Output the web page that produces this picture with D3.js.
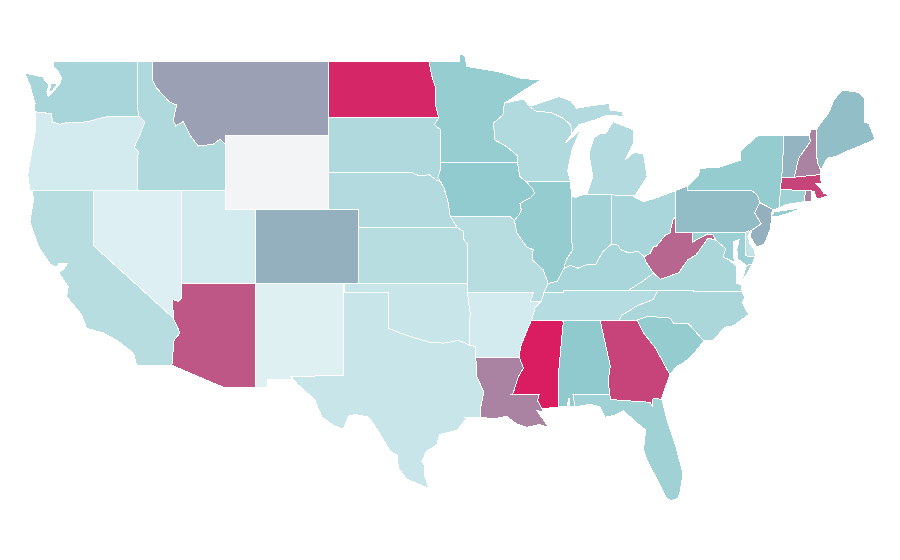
<!DOCTYPE html>
<html>
<head>
<meta charset="utf-8">
<script src="https://d3js.org/d3.v7.min.js"></script>
<style>
  body { margin: 0; background: #fff; }
  path { stroke: #fff; stroke-width: 1; shape-rendering: crispEdges; }
</style>
</head>
<body>
<div id="map"></div>
<script>
// state values, same order in both arrays
var stateNames = ["WA","OR","CA","ID","NV","UT","AZ","MT","WY","CO","NM","ND","SD","NE","KS","OK","TX",
  "MN","IA","MO","AR","LA","WI","IL","MI","IN","OH","KY","TN","MS","AL","GA","FL","SC","NC","VA","WV",
  "PA","NY","NJ","DE","MD","CT","RI","MA","VT","NH","ME"];
var stateValues = [38,15,29,34,10,15,84,64,0,60,9,97,34,32,29,21,21,
  47,49,29,15,72,33,48,32,40,37,37,31,100,50,89,42,48,36,36,80,
  55,48,60,23,43,42,72,89,58,72,54];

// shared borders in lon/lat
var waOr = [[-123.98,46.25],[-123.4,46.2],[-122.9,46.15],[-122.8,45.7],[-122.3,45.58],[-121.7,45.7],[-120.95,45.66],[-120.3,45.75],[-119.6,45.9],[-119.05,45.99],[-116.92,46]];
var orId = [[-116.92,46],[-116.53,45.72],[-116.85,45.05],[-117.26,44.33],[-116.94,44.1],[-117.03,43.83],[-117.03,42]];
var idMt = [[-116.05,49],[-116.05,48.05],[-115.74,47.54],[-114.88,46.8],[-114.38,46.62],[-114.6,45.8],[-114.44,45.49],[-113.93,45.72],[-113.47,45],[-112.9,44.4],[-111.9,44.5],[-111.43,44.77],[-111.05,44.47]];
var colorado = [[-114.04,36.2],[-114.27,36],[-114.65,36.1],[-114.6,35.1],[-114.15,34.3],[-114.55,33.9],[-114.7,32.55]];
var ndMn = [[-97.23,49],[-97.05,48.24],[-96.8,47.6],[-96.76,46.53],[-96.56,45.94]];
var sdMn = [[-96.56,45.94],[-96.85,45.55],[-96.45,45.3],[-96.45,43.5]];
var sdIa = [[-96.45,43.5],[-96.47,43.1],[-96.62,42.7],[-96.45,42.49]];
var sdNe = [[-104.05,43],[-98.45,43],[-97.9,42.8],[-97.2,42.85],[-96.7,42.55],[-96.45,42.49]];
var neIa = [[-96.45,42.49],[-96.2,42.12],[-95.9,41.3],[-95.8,40.67],[-95.77,40.58]];
var neMo = [[-95.77,40.58],[-95.31,40]];
var ksMo = [[-95.31,40],[-94.9,39.8],[-94.9,39.4],[-94.6,39.1]];
var mnWi = [[-92.1,46.72],[-92.2,46.08],[-92.85,45.65],[-92.75,44.73],[-91.95,44.37],[-91.2,43.86],[-91.22,43.5]];
var wiIa = [[-91.22,43.5],[-91.05,42.75],[-90.64,42.5]];
var iaIl = [[-90.64,42.5],[-90.2,42.1],[-90.05,41.85],[-90.35,41.6],[-91.05,41.3],[-90.95,40.95],[-91.1,40.7],[-91.42,40.38]];
var iaMo = [[-95.77,40.58],[-91.73,40.6],[-91.42,40.38]];
var ilMo = [[-91.42,40.38],[-91.25,39.7],[-90.6,38.96],[-90.15,38.8],[-90.2,38.25],[-89.45,37.7],[-89.13,36.98]];
var ilKy = [[-89.13,36.98],[-88.5,37.1],[-88.05,37.8]];
var ilIn = [[-87.53,41.7],[-87.53,39.35],[-87.45,38.8],[-87.9,38.25],[-88.05,37.8]];
var inKy = [[-88.05,37.8],[-87.6,37.95],[-87.1,37.8],[-86.5,38],[-85.9,38],[-85.7,38.3],[-85.4,38.7],[-84.82,39.1]];
var ohKy = [[-84.82,39.1],[-84.4,39.05],[-84.2,38.8],[-83.65,38.63],[-83,38.72],[-82.6,38.42]];
var ohWv = [[-82.6,38.42],[-82.2,38.6],[-81.97,38.96],[-81.75,39],[-81.15,39.6],[-80.85,39.7],[-80.65,40.4],[-80.45,40.64]];
var kyWv = [[-82.6,38.42],[-82.45,38.1],[-81.97,37.54]];
var kyVa = [[-81.97,37.54],[-82.7,37.1],[-83.67,36.6]];
var kyTn = [[-83.67,36.6],[-88.05,36.6],[-88.07,36.5],[-89.4,36.5]];
var kyMo = [[-89.4,36.5],[-89.13,36.98]];
var tnVa = [[-83.67,36.6],[-81.68,36.58]];
var tnNc = [[-81.68,36.58],[-82,36.1],[-83,35.8],[-84.1,35.27],[-84.3,35]];
var tnGa = [[-84.3,35],[-85.6,35]];
var tnAl = [[-85.6,35],[-88.2,35]];
var tnMs = [[-88.2,35],[-90.25,35]];
var tnAr = [[-90.25,35],[-90,35.7],[-89.6,36]];
var tnMo = [[-89.6,36],[-89.4,36.5]];
var moAr = [[-89.6,36],[-90.35,36],[-90.1,36.5],[-94.62,36.5]];
var arMs = [[-90.25,35],[-90.6,34.37],[-91,33.55],[-91.1,33]];
var arLa = [[-91.1,33],[-94.04,33]];
var arOk = [[-94.48,33.64],[-94.43,35.4],[-94.62,36.5]];
var msLa = [[-91.1,33],[-90.8,32.4],[-91.15,31.95],[-91.5,31.05],[-91.6,31],[-89.73,31],[-89.85,30.65],[-89.55,30.2]];
var alMs = [[-88.2,35],[-88.1,34.9],[-88.45,31.9],[-88.4,30.3]];
var alGa = [[-85.6,35],[-84.9,32.5],[-85.05,31.75],[-84.95,31]];
var alFl = [[-84.95,31],[-87.45,31],[-87.3,30.3]];
var gaFl = [[-84.95,31],[-84.86,30.7],[-82.2,30.55],[-82.05,30.36],[-82,30.75],[-81.45,30.72]];
var scGa = [[-83.1,35],[-82.65,34.3],[-81.85,33.5],[-81.3,32.7],[-80.85,32.03]];
var ncGa = [[-84.3,35],[-83.1,35]];
var ncSc = [[-83.1,35],[-82.3,35.2],[-80.8,35.1],[-80.6,34.8],[-79.6,34.8],[-78.55,33.87]];
var redRiver = [[-100,34.56],[-99.2,34.3],[-98.05,34],[-97.15,33.8],[-96.25,33.75],[-95.2,33.9],[-94.48,33.64]];
var sabine = [[-94.04,33],[-94,32],[-93.5,31.1],[-93.75,30.15],[-93.75,29.75]];
var wiMi = [[-90.4,46.55],[-90,46.3],[-88.87,46.2],[-88.1,45.9],[-87.6,45.55],[-87.5,45.1]];
var nyPa = [[-79.65,42.25],[-79.65,42],[-75.3,42],[-74.9,41.75],[-74.75,41.35]];
var paNj = [[-74.75,41.35],[-75.1,40.8],[-74.65,40.2],[-75.3,39.85]];
var nyNj = [[-74.75,41.35],[-73.9,41]];
var paMd = [[-79.35,39.72],[-75.72,39.72]];
var wvMd = [[-79.35,39.72],[-79.35,39.2],[-78.3,39.65],[-77.95,39.62],[-77.7,39.3]];
var wvVa = [[-77.7,39.3],[-78.25,39.43],[-79.1,38.5],[-79.65,38.25],[-80.25,37.55],[-81.5,37.2],[-81.97,37.54]];
var mdVa = [[-77.7,39.3],[-77.5,39.15],[-77.05,38.85],[-77.25,38.4],[-76.95,38.3]];
var nyVt = [[-73.15,45],[-73.15,44.1],[-73.25,42.72]];
var vtNh = [[-71.4,45],[-71.3,44.65],[-72.1,43.75],[-72.4,42.72]];
var nhMe = [[-70.9,45.3],[-70.85,43.55],[-70.6,43.1]];
var nyMa = [[-73.25,42.72],[-73.35,42.05]];
var nyCt = [[-73.35,42.05],[-73.4,41.1],[-73.65,41]];
var maCt = [[-73.35,42.05],[-71.65,42]];
var maRi = [[-71.65,42],[-71.25,42]];
var ctRi = [[-71.65,42],[-71.7,41.4]];

function rev(a) { return a.slice().reverse(); }
function join() { return [].concat.apply([], arguments); }

// outlines per state, each a list of rings
var outlines = {
  WA: [join([[-122.7,49],[-117.03,49],[-117.04,46.42]], rev(waOr), [[-124.05,46.4],[-124,46.7],[-124.35,47.7],[-124.7,48.35],[-123.45,48.13],[-123.35,47.97],[-123.05,47.7],[-123.2,47.35],[-123.1,47.07],[-122.75,47.35],[-122.3,47.8],[-122.2,48.05],[-122.4,48.4],[-122.75,48.7]]),
       [[-122.95,47.8],[-122.45,47.8],[-122.9,47.3],[-123,47.4]]],
  OR: [join(waOr, orId, [[-124.35,42],[-124.5,42.85],[-124.35,43.5],[-124,45.1]])],
  CA: [join([[-124.2,42],[-120,42],[-120,39],[-114.6,35.1]], colorado.slice(4), [[-117.1,32.55],[-117.3,33.2],[-118.35,33.85],[-119.35,34.3],[-120.5,34.55],[-120.85,35.3],[-121.85,36.25],[-121.75,36.8],[-122.4,37.6],[-122.1,37.7],[-121.8,38.05],[-122.4,38.05],[-122.5,37.85],[-122.95,38],[-123.75,38.95],[-124.35,40.3],[-124.1,41.5]])],
  ID: [join([[-117.03,49]], idMt, [[-111.05,42]], rev(orId), [[-117.04,46.42]])],
  NV: [join([[-120,42],[-114.04,42]], colorado.slice(0,4), [[-120,39]])],
  UT: [[[-114.04,42],[-111.05,42],[-111.05,41],[-109.05,41],[-109.05,37],[-114.04,37]]],
  AZ: [join(colorado, [[-111.1,31.33],[-109.05,31.33],[-109.05,37],[-114.04,37]])],
  MT: [join(idMt, [[-111.05,45],[-104.05,45],[-104.05,49]])],
  WY: [[[-111.05,45],[-104.05,45],[-104.05,41],[-111.05,41]]],
  CO: [[[-109.05,41],[-102.05,41],[-102.05,37],[-109.05,37]]],
  NM: [[[-109.05,37],[-103,37],[-103.05,32],[-106.6,31.95],[-106.55,31.78],[-108.2,31.78],[-108.2,31.33],[-109.05,31.33]]],
  ND: [join([[-104.05,49]], ndMn, [[-104.05,45.94]])],
  SD: [join([[-104.05,45.94]], sdMn, sdIa, rev(sdNe))],
  NE: [join(sdNe, neIa, neMo, [[-102.05,40],[-102.05,41],[-104.05,41]])],
  KS: [join([[-102.05,40]], ksMo, [[-94.62,37],[-102.05,37]])],
  OK: [join([[-103,37],[-94.62,37]], rev(arOk), rev(redRiver), [[-100,36.5],[-103,36.5]])],
  TX: [join([[-103.03,36.5],[-100,36.5]], redRiver, [[-94.04,33.55]], sabine, [[-94.85,29.75],[-94.6,29.75],[-95.3,29.05],[-96.5,28.8],[-96.7,28.25],[-97.4,27.9],[-97.7,27.35],[-97.5,27.1],[-97.5,26.55],[-97.25,25.9],[-98.73,26.4],[-99.3,27],[-99.4,27.7],[-99.85,27.9],[-100.3,28.5],[-101,29.4],[-101.35,29.75],[-102.25,29.9],[-102.7,29.8],[-103.05,29.1],[-103.7,29.3],[-104.5,29.75],[-105,30.7],[-106.2,31.55],[-106.6,31.95],[-103.05,32]])],
  MN: [join([[-97.23,49],[-95.15,49],[-95.15,49.38],[-94.8,49.3],[-94.65,48.7],[-93.5,48.55],[-92.4,48.4],[-91,48.07],[-89.65,47.97],[-90.8,47.4],[-92.1,46.72]], mnWi.slice(1), [[-96.45,43.5]], rev(sdMn), rev(ndMn))],
  IA: [join([[-96.45,43.5],[-91.22,43.5]], wiIa.slice(1), iaIl.slice(1), rev(iaMo), rev(neIa), rev(sdIa))],
  MO: [join(iaMo, ilMo, rev(kyMo), rev(tnMo), moAr, [[-94.62,37]], rev(ksMo), rev(neMo))],
  AR: [join(rev(moAr), rev(tnAr), arMs, arLa, [[-94.04,33.55]], arOk)],
  LA: [join(rev(arLa), msLa, [[-89.45,30.05],[-89.9,30.1],[-89.75,29.95],[-89.1,29.2],[-89.7,29.35],[-90.6,29.2],[-91.3,29.4],[-91.95,29.8],[-92.8,29.65],[-93.75,29.75]], rev(sabine))],
  WI: [join([[-92.1,46.72],[-90.8,46.95],[-90.4,46.55]], wiMi.slice(1), [[-87.96,44.56],[-86.95,45.25],[-87.5,44.2],[-87.8,43.1],[-87.62,42.5],[-90.64,42.5]], rev(wiIa), rev(mnWi).slice(1))],
  IL: [join([[-90.64,42.5],[-87.62,42.5],[-87.53,41.7]], ilIn.slice(1), rev(ilKy), rev(ilMo), rev(iaIl))],
  MI: [join(wiMi, [[-87.05,45.55],[-86,45.8],[-85.1,46.08],[-84,46],[-84.1,46.25],[-84.9,46.35],[-85,46.7],[-86,46.6],[-87.2,46.45],[-87.6,46.85],[-88.45,47.1],[-87.75,47.45],[-88.5,47.05],[-89.2,46.85]]),
       [[-86.5,41.76],[-84.8,41.76],[-83.45,41.73],[-83.2,41.75],[-82.4,42.75],[-82.65,44],[-83.3,44.05],[-83.9,43.65],[-83.35,44.5],[-83.3,45.27],[-84.7,45.72],[-85.2,45.1],[-85.55,45.1],[-86,44.85],[-86.35,44],[-86.1,42.75]]],
  IN: [join([[-87.53,41.7],[-87.3,41.62],[-86.8,41.76],[-84.8,41.76],[-84.82,39.1]], rev(inKy), rev(ilIn))],
  OH: [join([[-84.8,41.76],[-83.45,41.73],[-82.65,41.4],[-81.85,41.58],[-80.45,42],[-80.45,40.64]], rev(ohWv), rev(ohKy))],
  KY: [join(ilKy.slice(1), inKy.slice(1), ohKy.slice(1), kyWv.slice(1), kyVa.slice(1), kyTn.slice(1), kyMo)],
  TN: [join(tnVa, tnNc.slice(1), tnGa.slice(1), tnAl.slice(1), tnMs.slice(1), tnAr.slice(1), tnMo.slice(1), rev(kyTn))],
  MS: [join(rev(tnMs), alMs.slice(1), rev(msLa), rev(arMs))],
  AL: [join(rev(tnAl), alGa.slice(1), alFl.slice(1), [[-87.65,30.3],[-87.7,30.8],[-87.85,30.3]], rev(alMs))],
  GA: [join(ncGa, scGa, [[-81.15,31.4]], rev(gaFl), rev(alGa), rev(tnGa))],
  FL: [join(rev(alFl), gaFl.slice(1), [[-81.4,30.7],[-81.05,29.6],[-80.5,28.3],[-79.96,26.7],[-80.15,25.75],[-80.3,25.35],[-80.8,25.22],[-81.1,25.4],[-81.7,26.35],[-82.4,27.4],[-82.65,28],[-82.5,29.05],[-83.2,29.5],[-84,30.1],[-84.6,29.85],[-85.25,29.75],[-85.6,30.3],[-86.25,30.45]])],
  SC: [join(ncSc, [[-79.2,33.2],[-79.9,32.7],[-80.4,32.5]], rev(scGa))],
  NC: [join(rev(tnNc), [[-75.95,36.55],[-75.75,36.2],[-75.95,35.95],[-75.5,35.3],[-76.5,34.7],[-77.15,34.6],[-77.9,33.9]], rev(ncSc), rev(ncGa))],
  VA: [join(tnVa, [[-75.95,36.55],[-76,36.9],[-76.35,37],[-76.3,37.6],[-76.35,37.95]], rev(mdVa), wvVa, kyVa.slice(1)),
       [[-75.25,38.03],[-75.65,37.95],[-75.95,37.15],[-75.6,37.5]]],
  WV: [join(ohWv, [[-80.45,39.72]], wvMd, wvVa, rev(kyWv))],
  PA: [join(nyPa, paNj, [[-75.72,39.72]], rev(paMd), [[-80.45,39.72],[-80.45,42]])],
  NY: [join(rev(nyPa), [[-78.9,42.85],[-78.8,43.2],[-77.5,43.25],[-76.05,43.65],[-76.05,44.15],[-74.9,44.95]], nyVt, nyMa.slice(1), nyCt.slice(1), rev(nyNj)),
       [[-74,40.6],[-73.75,40.85],[-72.6,40.98],[-71.9,41.05],[-72.7,40.8],[-73.6,40.58]]],
  NJ: [join(nyNj, [[-73.95,40.4],[-74.05,39.85],[-74.45,39.1],[-74.95,38.95],[-75.4,39.5]], rev(paNj))],
  DE: [[[-75.72,39.72],[-75.55,39.82],[-75.4,39.8],[-75.55,39.5],[-75.4,39.1],[-75.1,38.8],[-75.05,38.45],[-75.7,38.46]]],
  MD: [join(paMd, [[-75.7,38.46],[-75.05,38.45],[-75.25,38.03],[-75.65,37.95],[-76.25,38.3],[-76.3,38.8],[-76.15,39.35],[-76.5,39.25],[-76.55,38.4],[-76.35,38.1],[-76.95,38.3]], rev(mdVa).slice(1), rev(wvMd))],
  CT: [join(maCt, ctRi.slice(1), [[-72.9,41.25]], rev(nyCt))],
  RI: [join(rev(ctRi), maRi.slice(1), [[-71.25,41.4]])],
  MA: [join(rev(nyMa), [[-72.4,42.72],[-70.62,42.86],[-70.57,42.39],[-70.95,42.39],[-70.6,42.1],[-70.4,41.85],[-69.95,41.75],[-70.62,41.58],[-70.9,41.58],[-71.05,41.93]], rev(maRi), rev(maCt))],
  VT: [join(nyVt, rev(vtNh))],
  NH: [join(vtNh, [[-70.62,42.86]], rev(nhMe), [[-71.25,45.3]])],
  ME: [join(nhMe, [[-70.15,43.75],[-69.5,43.85],[-68.9,44.1],[-68.1,44.35],[-66.9,44.77],[-67.35,45.63],[-67.65,45.7],[-67.65,47],[-68,47.3],[-69.15,47.43],[-69.7,46.9],[-70.05,46.2],[-70.6,45.65]])]
};

var width = 900, height = 560;

// the map is a plain lon/lat grid, stretched
var x = d3.scaleLinear().domain([-109.05, -102.05]).range([255, 358]);
var y = d3.scaleLinear().domain([41, 37]).range([209, 283]);

var color = d3.scaleLinear()
  .domain([0, 10, 50, 60, 100])
  .range(["#f3f4f6", "#ddeff3", "#90cace", "#94afbd", "#da1c60"]);

var line = d3.line().x(function (d) { return x(d[0]); }).y(function (d) { return y(d[1]); });

var svg = d3.select("#map").append("svg").attr("width", width).attr("height", height);

svg.selectAll("path")
  .data(stateNames)
  .enter()
  .append("path")
  .attr("d", function (d) {
    return outlines[d].map(function (ring) { return line(ring) + "Z"; }).join("");
  })
  .style("fill", function (d, i) { return color(stateValues[i]); });
</script>
</body>
</html>
